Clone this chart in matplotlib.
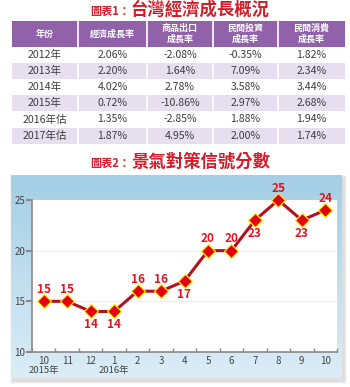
import numpy as np
import matplotlib
matplotlib.use("Agg")
import matplotlib.pyplot as plt
from matplotlib.patches import Rectangle

plt.rcParams['font.family'] = ['Noto Sans CJK TC', 'DejaVu Sans']

# ---- table data ----
years = ["2012年", "2013年", "2014年", "2015年", "2016年估", "2017年估"]
gdp_growth = [2.06, 2.20, 4.02, 0.72, 1.35, 1.87]
export_growth = [-2.08, 1.64, 2.78, -10.86, -2.85, 4.95]
invest_growth = [-0.35, 7.09, 3.58, 2.97, 1.88, 2.00]
consume_growth = [1.82, 2.34, 3.44, 2.68, 1.94, 1.74]
table_headers = ["年份", "經濟成長率", "商品出口\n成長率", "民間投資\n成長率", "民間消費\n成長率"]

# ---- signal score data ----
months = ["10", "11", "12", "1", "2", "3", "4", "5", "6", "7", "8", "9", "10"]
scores = [15, 15, 14, 14, 16, 16, 17, 20, 20, 23, 25, 23, 24]
label_below = [False, False, True, True, False, False, True, False, False, True, False, True, False]
year_marks = {0: "2015年", 3: "2016年"}

W, H = 350, 387
fig = plt.figure(figsize=(W / 100, H / 100), dpi=100)
fig.patch.set_facecolor("white")

# full-figure pixel canvas for table, titles and panel
bg = fig.add_axes([0, 0, 1, 1])
bg.set_xlim(0, W)
bg.set_ylim(H, 0)
bg.axis("off")

title_red = "#cf1f2b"
purple = "#9162a9"
lavender = "#e7deef"

def title(y, num, text):
    bg.text(130, y + 1, f"圖表{num}：", color=title_red, fontsize=8, fontweight="bold",
            ha="right", va="center")
    bg.text(131, y, text, color=title_red, fontsize=12.5, fontweight="bold",
            ha="left", va="center")

title(10, 1, "台灣經濟成長概況")

# table geometry
col_edges = [12, 78, 147, 213, 278, 345]
header_top, header_bot = 21, 47
row_h = 16.1

bg.add_patch(Rectangle((col_edges[0], header_top), col_edges[-1] - col_edges[0],
                       header_bot - header_top, facecolor=purple, edgecolor="none"))
for i, h in enumerate(table_headers):
    cx = (col_edges[i] + col_edges[i + 1]) / 2
    bg.text(cx, (header_top + header_bot) / 2, h, color="white", fontsize=6.5,
            fontweight="bold", ha="center", va="center", linespacing=1.25)

columns = [gdp_growth, export_growth, invest_growth, consume_growth]
for r, yr in enumerate(years):
    top = header_bot + r * row_h
    if r % 2 == 1:
        bg.add_patch(Rectangle((col_edges[0], top), col_edges[-1] - col_edges[0], row_h,
                               facecolor=lavender, edgecolor="none"))
    cy = top + row_h / 2
    cells = [yr] + [f"{c[r]:.2f}%" for c in columns]
    for i, s in enumerate(cells):
        cx = (col_edges[i] + col_edges[i + 1]) / 2
        bg.text(cx, cy, s, color="#3d3d3d", fontsize=7.6, ha="center", va="center")
# white column separators
for x in col_edges[1:-1]:
    bg.plot([x, x], [header_top, header_bot + 6 * row_h], color="white", lw=1.2)

title(162, 2, "景氣對策信號分數")

# chart panel with soft shadow and vertical gradient
px0, py0, px1, py1 = 11, 175, 342, 378
for k, a in enumerate([0.05, 0.08, 0.12]):
    off = 3 - k
    bg.add_patch(Rectangle((px0 - off + 2, py0 - off + 3), px1 - px0 + 2 * off, py1 - py0 + 2 * off,
                           facecolor="#777777", alpha=a, edgecolor="none"))
grad = np.linspace(0, 1, 256)[:, None]
top_c = np.array([0.64, 0.81, 0.90])
bot_c = np.array([0.86, 0.93, 0.97])
img = top_c[None, None, :] * (1 - grad[..., None]) + bot_c[None, None, :] * grad[..., None]
bg.imshow(img, extent=(px0, px1, py1, py0), aspect="auto", zorder=1)
bg.set_xlim(0, W)
bg.set_ylim(H, 0)

# plot area
ax_l, ax_t, ax_r, ax_b = 32, 200, 337, 352
ax = fig.add_axes([ax_l / W, 1 - ax_b / H, (ax_r - ax_l) / W, (ax_b - ax_t) / H])
ax.set_facecolor("white")
x = np.arange(len(scores))
ax.set_xlim(-0.5, len(scores) - 0.5)
ax.set_ylim(10, 25)

for g in (15, 20):
    ax.axhline(g, color="#eeeeee", lw=0.8, zorder=1)

ax.plot(x, scores, color="#b3121c", lw=2.2, zorder=3, clip_on=False,
        marker="D", markersize=7.2, markerfacecolor="#e10010",
        markeredgecolor="#ffee00", markeredgewidth=0.9)

for xi, s, below in zip(x, scores, label_below):
    dy = -13 if below else 12
    ax.annotate(str(s), (xi, s), xytext=(0, dy), textcoords="offset pixels",
                ha="center", va="center", color="#e3141f", fontsize=8.5,
                fontweight="bold", annotation_clip=False, zorder=4)

for side in ("top", "right"):
    ax.spines[side].set_visible(False)
for side in ("left", "bottom"):
    ax.spines[side].set_color("#8a8a8a")
    ax.spines[side].set_linewidth(1.2)

ax.set_yticks([10, 15, 20, 25])
ax.tick_params(axis="y", direction="out", length=4, width=1.5, color="#8a8a8a",
               labelsize=7, labelcolor="#444444", pad=1)

# tick marks sit between months; labels centred on months
ax.set_xticks(np.arange(-0.5, len(scores) + 0.5, 1.0))
ax.set_xticklabels([])
ax.tick_params(axis="x", which="major", direction="in", length=3, width=1, color="#8a8a8a")
ax.set_xticks(x, minor=True)
ax.set_xticklabels(months, minor=True)
ax.tick_params(axis="x", which="minor", length=0, labelsize=7, labelcolor="#444444", pad=3)

for xi, txt in year_marks.items():
    ax.annotate(txt, (xi, 10), xytext=(0, -19), textcoords="offset pixels",
                ha="center", va="center", fontsize=6.8, color="#444444",
                annotation_clip=False)

fig.savefig("out.png", dpi=100)
